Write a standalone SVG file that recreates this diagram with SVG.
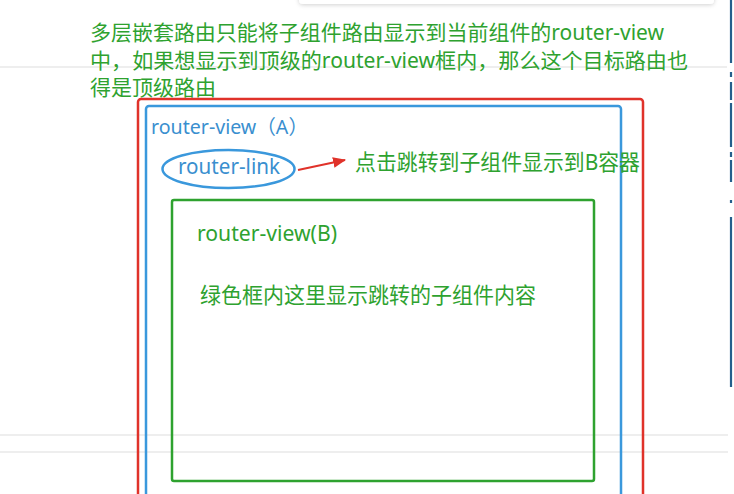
<svg xmlns="http://www.w3.org/2000/svg" width="734" height="494" viewBox="0 0 734 494">
  <defs>
    <filter id="shadow" x="-5%" y="-100%" width="110%" height="400%">
      <feDropShadow dx="0" dy="1" stdDeviation="2" flood-color="#000" flood-opacity="0.18"/>
    </filter>
    <marker id="arrowRed" viewBox="0 0 12 10" refX="11" refY="5" markerWidth="6.5" markerHeight="5.5" orient="auto" markerUnits="strokeWidth">
      <path d="M0,0 L12,5 L0,10 z" fill="#e0322a"/>
    </marker>
  </defs>
  <style>
    .t { font-family: "Noto Sans", "Noto Sans CJK SC", sans-serif; }
    .green { fill: #2ea22f; }
    .blue { fill: #3a8fcf; }
    .bg-line { stroke: #e9e9e9; stroke-width: 1.5; }
    .edge { stroke: #245f8c; stroke-width: 2.2; }
  </style>
  <rect x="0" y="0" width="734" height="494" fill="#ffffff"/>

  <!-- background page elements -->
  <g id="background">
    <rect x="299" y="-12" width="415" height="16" rx="4" fill="#ffffff" filter="url(#shadow)"/>
    <line class="bg-line" x1="0" y1="67" x2="727" y2="67"/>
    <line class="bg-line" x1="0" y1="435" x2="728" y2="435"/>
    <line class="bg-line" x1="0" y1="452" x2="728" y2="452"/>
    <g class="edge">
      <line x1="731" y1="0" x2="731" y2="63"/>
      <line x1="731" y1="72" x2="731" y2="77"/>
      <line x1="731" y1="82" x2="731" y2="100"/>
      <line x1="731" y1="103" x2="731" y2="147"/>
      <line x1="731" y1="152" x2="731" y2="157"/>
      <line x1="731" y1="160" x2="731" y2="182"/>
      <line x1="731" y1="200" x2="731" y2="203"/>
      <line x1="731" y1="217" x2="731" y2="387"/>
    </g>
  </g>

  <g id="note">
    <text class="t green" font-size="21" x="90" y="40" textLength="574" lengthAdjust="spacingAndGlyphs">多层嵌套路由只能将子组件路由显示到当前组件的router-view</text>
    <text class="t green" font-size="21" x="90" y="68" textLength="598" lengthAdjust="spacingAndGlyphs">中，如果想显示到顶级的router-view框内，那么这个目标路由也</text>
    <text class="t green" font-size="21" x="90" y="95" textLength="126" lengthAdjust="spacingAndGlyphs">得是顶级路由</text>
  </g>

  <g id="outer-red">
    <rect x="138" y="99" width="505" height="430" rx="3" fill="none" stroke="#e0322a" stroke-width="2.5"/>
  </g>

  <g id="router-view-A">
    <rect x="146" y="106" width="475" height="430" rx="3" fill="none" stroke="#3a98dc" stroke-width="2.5"/>
    <text class="t blue" font-size="20" x="151" y="134" textLength="157" lengthAdjust="spacingAndGlyphs">router-view（A）</text>
  </g>

  <g id="router-link">
    <ellipse cx="228.5" cy="169" rx="66" ry="19" fill="none" stroke="#3a98dc" stroke-width="2.5"/>
    <text class="t blue" font-size="21" x="178" y="174" textLength="102" lengthAdjust="spacingAndGlyphs">router-link</text>
  </g>

  <g id="click-note">
    <text class="t green" font-size="21.5" x="355" y="170" textLength="285" lengthAdjust="spacingAndGlyphs">点击跳转到子组件显示到B容器</text>
  </g>

  <g id="router-view-B">
    <rect x="172" y="200" width="422" height="281" rx="2" fill="none" stroke="#2ea22f" stroke-width="2.5"/>
    <text class="t green" font-size="21" x="197" y="241" textLength="140" lengthAdjust="spacingAndGlyphs">router-view(B)</text>
    <text class="t green" font-size="21.5" x="200" y="303" textLength="336" lengthAdjust="spacingAndGlyphs">绿色框内这里显示跳转的子组件内容</text>
  </g>

  <g id="connectors">
    <line x1="298" y1="170" x2="345" y2="160" stroke="#e0322a" stroke-width="2" marker-end="url(#arrowRed)"/>
  </g>
</svg>
